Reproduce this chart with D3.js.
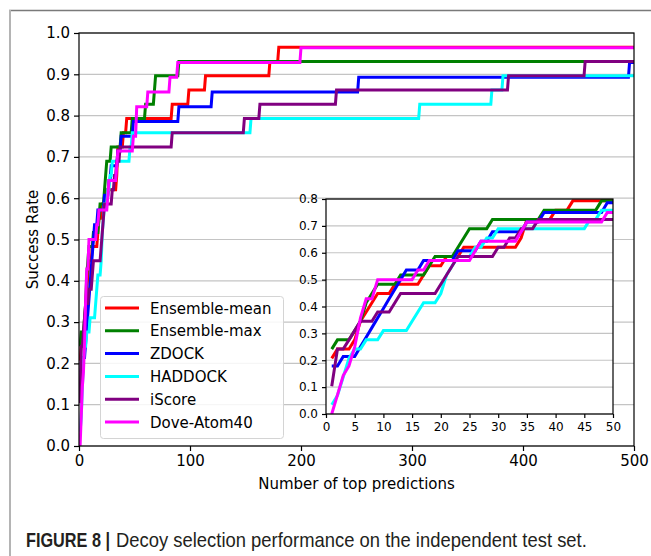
<!DOCTYPE html>
<html>
<head>
<meta charset="utf-8">
<script src="https://cdn.jsdelivr.net/npm/d3@7"></script>
<style>
  body { margin: 0; background: #fff; }
  svg { display: block; }
  .tick text { font-family: "DejaVu Sans", sans-serif; fill: #000; }
</style>
</head>
<body>
<svg id="fig" width="651" height="556"></svg>
<script>
// Methods, in plotting / legend order
const methods = ["Ensemble-mean", "Ensemble-max", "ZDOCK", "HADDOCK", "iScore", "Dove-Atom40"];
const colors  = ["#ff0000", "#008000", "#0000ff", "#00ffff", "#800080", "#ff00ff"];

// Success rate as a function of the number of top predictions.
// Each pair is [rank, rate]: the rate reached at that rank, held until the next pair.
const ensembleMean = [[1,.2069],[2,.2414],[5,.2759],[6,.3448],[7,.3793],[8,.4138],[9,.4483],[12,.4828],[17,.5172],[18,.5517],[21,.5862],[24,.6207],[34,.6552],[35,.7241],[40,.7586],[43,.7931],[84,.8276],[99,.8621],[114,.8966],[172,.931],[180,.9655]];
const ensembleMax  = [[1,.2414],[2,.2759],[5,.3103],[6,.3448],[7,.4138],[8,.4483],[9,.4828],[13,.5172],[18,.5517],[19,.5862],[23,.6207],[24,.6552],[25,.6897],[29,.7241],[38,.7586],[48,.7931],[60,.8276],[68,.8621],[69,.8966],[90,.931]];
const zdock        = [[1,.1786],[3,.2143],[6,.25],[7,.2857],[8,.3214],[9,.3571],[10,.3929],[11,.4286],[12,.4643],[13,.5],[14,.5357],[17,.5714],[23,.6071],[27,.6429],[29,.6786],[35,.7143],[38,.75],[49,.7857],[90,.8214],[120,.8571],[252,.8929],[496,.9286]];
const haddock      = [[1,.0345],[2,.069],[3,.1379],[4,.2069],[5,.2414],[7,.2759],[10,.3103],[15,.3448],[16,.3793],[17,.4138],[20,.4483],[21,.5172],[22,.5517],[23,.5862],[26,.6207],[28,.6552],[30,.6897],[46,.7241],[48,.7586],[155,.7931],[307,.8276],[372,.8621],[382,.8966]];
const iScore       = [[1,.1034],[2,.2414],[4,.2759],[5,.3103],[6,.3448],[9,.3793],[12,.4138],[13,.4483],[20,.4828],[21,.5172],[22,.5517],[23,.5862],[30,.6207],[32,.6552],[34,.6897],[37,.7241],[84,.7586],[149,.7931],[163,.8276],[232,.8621],[387,.8966],[456,.931]];
const doveAtom40   = [[1,0],[2,.0714],[3,.1429],[4,.1786],[5,.25],[6,.3571],[7,.4286],[9,.5],[16,.5357],[18,.5714],[26,.6071],[27,.6429],[34,.6786],[35,.7143],[49,.75],[52,.8214],[62,.8571],[82,.8929],[89,.9286],[200,.9643]];
const seriesRates = [ensembleMean, ensembleMax, zdock, haddock, iScore, doveAtom40];

const maxRank = 500;
const insetMaxRank = 50;

// Tick values
const mainXTicks  = [0, 100, 200, 300, 400, 500];
const mainYTicks  = [0, 0.1, 0.2, 0.3, 0.4, 0.5, 0.6, 0.7, 0.8, 0.9, 1.0];
const insetXTicks = [0, 5, 10, 15, 20, 25, 30, 35, 40, 45, 50];
const insetYTicks = [0, 0.1, 0.2, 0.3, 0.4, 0.5, 0.6, 0.7, 0.8];

const xLabel = "Number of top predictions";
const yLabel = "Success Rate";
const captionHead = "FIGURE 8 |";
const captionBody = "Decoy selection performance on the independent test set.";

// Points sampled at integer ranks: a change at rank r is reached from r-1.
function toPoints(pairs) {
  const pts = [];
  pairs.forEach((p, i) => {
    if (i > 0) {
      const prev = pairs[i - 1];
      if (p[0] - 1 > prev[0]) pts.push([p[0] - 1, prev[1]]);
    }
    pts.push(p);
  });
  const last = pairs[pairs.length - 1];
  if (last[0] < maxRank) pts.push([maxRank, last[1]]);
  return pts;
}

// Keep points up to (and including) the first one past the inset range.
function upTo(pts, limit) {
  const k = pts.findIndex(p => p[0] > limit);
  return k < 0 ? pts : pts.slice(0, k + 1);
}

const svg = d3.select("#fig");

// Figure frame
svg.append("line").attr("x1", 9).attr("x2", 651).attr("y1", 10.5).attr("y2", 10.5)
  .attr("stroke", "#7a7a7a").attr("stroke-width", 1.5);
svg.append("line").attr("x1", 10).attr("x2", 10).attr("y1", 10).attr("y2", 556)
  .attr("stroke", "#b4b4b4").attr("stroke-width", 2);

// ---------- Main axes ----------
const M = { left: 79, right: 634, top: 33, bottom: 446 };
const x = d3.scaleLinear().domain([0, 500]).range([M.left, M.right]);
const y = d3.scaleLinear().domain([0, 1]).range([M.bottom, M.top]);

const main = svg.append("g");
main.append("defs").append("clipPath").attr("id", "mainClip")
  .append("rect").attr("x", M.left).attr("y", M.top - 2)
  .attr("width", M.right - M.left).attr("height", M.bottom - M.top + 4);

main.append("g").selectAll("line").data(mainYTicks).join("line")
  .attr("x1", M.left).attr("x2", M.right)
  .attr("y1", d => y(d)).attr("y2", d => y(d))
  .attr("stroke", "#c4c4c4").attr("stroke-width", 1.2);

const line = d3.line().x(d => x(d[0])).y(d => y(d[1]));
main.append("g").attr("clip-path", "url(#mainClip)")
  .selectAll("path").data(seriesRates).join("path")
  .attr("d", d => line(toPoints(d)))
  .attr("fill", "none")
  .attr("stroke", (d, i) => colors[i])
  .attr("stroke-width", 3)
  .attr("stroke-linejoin", "miter");

main.append("rect").attr("x", M.left).attr("y", M.top)
  .attr("width", M.right - M.left).attr("height", M.bottom - M.top)
  .attr("fill", "none").attr("stroke", "#000").attr("stroke-width", 1.2);

const xAxis = main.append("g").attr("transform", `translate(0,${M.bottom})`)
  .call(d3.axisBottom(x).tickValues(mainXTicks).tickSize(5).tickPadding(4).tickFormat(d3.format("d")));
const yAxis = main.append("g").attr("transform", `translate(${M.left},0)`)
  .call(d3.axisLeft(y).tickValues(mainYTicks).tickSize(5).tickPadding(4).tickFormat(d3.format(".1f")));
[xAxis, yAxis].forEach(a => {
  a.select(".domain").remove();
  a.selectAll(".tick line").attr("stroke", "#000").attr("stroke-width", 1.2);
  a.selectAll(".tick text").attr("font-size", 15);
});

main.append("text").attr("x", (M.left + M.right) / 2).attr("y", 489)
  .attr("text-anchor", "middle").attr("font-family", "DejaVu Sans, sans-serif")
  .attr("font-size", 15).text(xLabel);
main.append("text").attr("transform", `translate(38,${(M.top + M.bottom) / 2}) rotate(-90)`)
  .attr("text-anchor", "middle").attr("font-family", "DejaVu Sans, sans-serif")
  .attr("font-size", 15).text(yLabel);

// ---------- Legend ----------
const L = { x: 100, y: 296, w: 183, h: 142, row: 22.8 };
const legend = svg.append("g");
legend.append("rect").attr("x", L.x + 0.5).attr("y", L.y + 0.5).attr("width", L.w).attr("height", L.h)
  .attr("rx", 3).attr("fill", "#fff").attr("fill-opacity", 0.85)
  .attr("stroke", "#d4d4d4").attr("stroke-width", 1);
const items = legend.selectAll("g.item").data(methods).join("g").attr("class", "item")
  .attr("transform", (d, i) => `translate(${L.x},${L.y + 12 + i * L.row})`);
items.append("line").attr("x1", 5).attr("x2", 39).attr("y1", 0).attr("y2", 0)
  .attr("stroke", (d, i) => colors[i]).attr("stroke-width", 3);
items.append("text").attr("x", 50).attr("y", 5.5)
  .attr("font-family", "DejaVu Sans, sans-serif").attr("font-size", 15).text(d => d);

// ---------- Inset: first 50 predictions ----------
const I = { left: 326, right: 613, top: 199, bottom: 414 };
const xi = d3.scaleLinear().domain([0, insetMaxRank]).range([I.left, I.right]);
const yi = d3.scaleLinear().domain([0, 0.8]).range([I.bottom, I.top]);

const inset = svg.append("g");
inset.append("rect").attr("x", I.left).attr("y", I.top)
  .attr("width", I.right - I.left).attr("height", I.bottom - I.top).attr("fill", "#fff");
inset.append("defs").append("clipPath").attr("id", "insetClip")
  .append("rect").attr("x", I.left).attr("y", I.top)
  .attr("width", I.right - I.left).attr("height", I.bottom - I.top);

inset.append("g").selectAll("line").data(insetYTicks).join("line")
  .attr("x1", I.left).attr("x2", I.right)
  .attr("y1", d => yi(d)).attr("y2", d => yi(d))
  .attr("stroke", "#c4c4c4").attr("stroke-width", 1.2);

const lineI = d3.line().x(d => xi(d[0])).y(d => yi(d[1]));
inset.append("g").attr("clip-path", "url(#insetClip)")
  .selectAll("path").data(seriesRates).join("path")
  .attr("d", d => lineI(upTo(toPoints(d), insetMaxRank)))
  .attr("fill", "none")
  .attr("stroke", (d, i) => colors[i])
  .attr("stroke-width", 3)
  .attr("stroke-linejoin", "miter");

inset.append("rect").attr("x", I.left).attr("y", I.top)
  .attr("width", I.right - I.left).attr("height", I.bottom - I.top)
  .attr("fill", "none").attr("stroke", "#000").attr("stroke-width", 1.2);

const xiAxis = inset.append("g").attr("transform", `translate(0,${I.bottom})`)
  .call(d3.axisBottom(xi).tickValues(insetXTicks).tickSize(4).tickPadding(4).tickFormat(d3.format("d")));
const yiAxis = inset.append("g").attr("transform", `translate(${I.left},0)`)
  .call(d3.axisLeft(yi).tickValues(insetYTicks).tickSize(4).tickPadding(4).tickFormat(d3.format(".1f")));
[xiAxis, yiAxis].forEach(a => {
  a.select(".domain").remove();
  a.selectAll(".tick line").attr("stroke", "#000").attr("stroke-width", 1.2);
  a.selectAll(".tick text").attr("font-size", 12);
});

// ---------- Caption (condensed by a horizontal scale to fit its span) ----------
function fittedText(str, x0, width, bold) {
  const t = svg.append("text").attr("x", 0).attr("y", 0)
    .attr("font-family", "Liberation Sans, Arial, sans-serif")
    .attr("font-weight", bold ? "bold" : "normal")
    .attr("font-size", 20).attr("fill", "#231f20").text(str);
  const natural = t.node().getComputedTextLength();
  t.attr("transform", `translate(${x0},547) scale(${width / natural},1)`);
}
fittedText(captionHead, 26, 84, true);
fittedText(captionBody, 116, 471, false);
</script>
</body>
</html>
